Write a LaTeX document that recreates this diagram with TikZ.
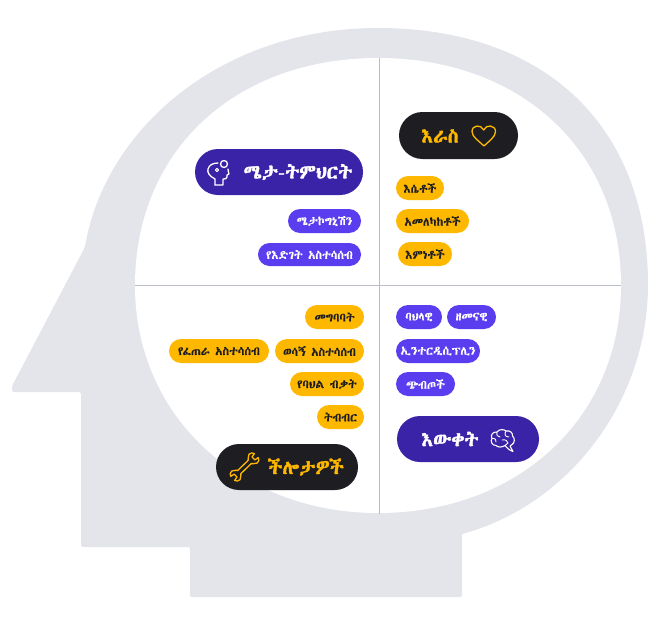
\documentclass[tikz,border=0pt]{standalone}
\usepackage{fontspec}
\usetikzlibrary{shapes.misc}
\newfontfamily\eth[FakeBold=0.25]{Abyssinica SIL}
\newfontfamily\ethb[FakeBold=2]{Abyssinica SIL}
\definecolor{headgray}{HTML}{E3E5EB}
\definecolor{axisgray}{HTML}{B9BDC5}
\definecolor{deep}{HTML}{3A23A6}
\definecolor{violet}{HTML}{5B3DF0}
\definecolor{amber}{HTML}{FFB800}
\definecolor{coal}{HTML}{1E1E22}
\tikzset{
  x=1pt,y=-1pt,
  pill/.style={rounded rectangle,inner sep=0pt,font=\eth\fontsize{12}{14}\selectfont},
  bigpill/.style={rounded rectangle,inner sep=0pt},
  bigtext/.style={inner sep=0pt,font=\ethb\fontsize{19.5}{22}\selectfont},
  violetpill/.style={pill,fill=violet,text=white},
  amberpill/.style={pill,fill=amber,text=coal},
  icon/.style={line width=1.3pt,line join=round,line cap=round},
}
% #1 name, #2 style, #3 left, #4 right, #5 top, #6 bottom, #7 text
\newcommand{\pillat}[7]{\node[#2,minimum width={#4-#3},minimum height={#6-#5}] (#1) at ({(#3+#4)/2},{(#5+#6)/2}) {#7};}
\begin{document}
\begin{tikzpicture}
\useasboundingbox (0,0) rectangle (669,629);
% head silhouette
\fill[headgray]
  (462,534) [rounded corners=2pt] -- (462,597) -- (190,597) -- (190,547) -- (81,547) -- (81,392) -- (12,392)
  -- (12,386) -- (85,247) [sharp corners]
  .. controls (105,130) and (220,28) .. (378,28)
  .. controls (545,28) and (648,126) .. (648,285)
  .. controls (648,400) and (570,505) .. (462,534) -- cycle;
% inner face
\fill[white] (378,58) .. controls (519,58) and (621,149) .. (621,285.5)
  .. controls (621,417) and (519,513) .. (378,513)
  .. controls (241,513) and (135,417) .. (135,285.5)
  .. controls (135,149) and (237,58) .. (378,58) -- cycle;
% axes
\coordinate (axt) at (379,58); \coordinate (axb) at (379,514);
\coordinate (axl) at (135,285.5); \coordinate (axr) at (621,285.5);
\draw[axisgray,line width=0.8pt] (axt) -- (axb);
\draw[axisgray,line width=0.8pt] (axl) -- (axr);
% big pills
\pillat{meta}{bigpill,fill=deep}{195}{363}{149}{195}{}
\node[bigtext,text=white] (metat) at (298,172) {ሜታ-ትምህርት};
\pillat{self}{bigpill,fill=coal}{399}{518}{112}{159}{}
\node[bigtext,text=amber] (selft) at (440,136) {እራስ};
\pillat{skill}{bigpill,fill=coal}{216}{358}{444}{490}{}
\node[bigtext,text=amber] (skillt) at (306,467) {ችሎታዎች};
\pillat{know}{bigpill,fill=deep}{397}{539}{416}{462}{}
\node[bigtext,text=white] (knowt) at (450,439) {እውቀት};
% small pills
\pillat{a1}{violetpill}{288}{361}{209}{233}{ሜታኮግኒሽን}
\pillat{a2}{violetpill}{258}{361}{243}{266}{የእድገት አስተሳሰብ}
\pillat{b1}{amberpill}{396}{444}{176}{200}{እሴቶች}
\pillat{b2}{amberpill}{396}{469}{209}{233}{አመለካከቶች}
\pillat{b3}{amberpill}{398}{452}{242}{266}{እምነቶች}
\pillat{c1}{amberpill}{305}{364}{305}{329}{መግባባት}
\pillat{c2}{amberpill}{169}{269}{339}{363}{የፈጠራ አስተሳሰብ}
\pillat{c3}{amberpill}{275}{364}{339}{363}{ወሳኝ አስተሳሰብ}
\pillat{c4}{amberpill}{290}{364}{372}{396}{የባህል ብቃት}
\pillat{c5}{amberpill}{317}{364}{405}{429}{ትብብር}
\pillat{d1}{violetpill}{396}{442}{305}{329}{ባህላዊ}
\pillat{d2}{violetpill}{447}{496}{305}{329}{ዘመናዊ}
\pillat{d3}{violetpill}{396}{480}{339}{363}{ኢንተርዲሲፕሊን}
\pillat{d4}{violetpill}{396}{455}{372}{396}{ጭብጦች}
% heart icon
\draw[icon,amber] (484,146) .. controls (479,141) and (472,137) .. (472,131.5)
  .. controls (472,125) and (481,124) .. (483.7,130)
  .. controls (486,124) and (495.5,125) .. (495.5,131.5)
  .. controls (495.5,137) and (489,141) .. (484,146) -- cycle;
% head icon
\draw[icon,white] (215,185) -- (215,179) .. controls (209,176) and (207,172) .. (208,169)
  .. controls (209,165) and (213,163) .. (218,163);
\draw[icon,white] (228,169) .. controls (228,171) and (229,174) .. (229,174)
  -- (227,175) -- (227,177) .. controls (227,179) and (225,179) .. (223,179)
  -- (223,185) -- (215,185);
\draw[icon,white] (224,164) circle[radius=3.5];
\draw[icon,white,line width=1pt] (217,170) circle[radius=1.6];
% wrench icon
\begin{scope}[shift={(244.5,467)},rotate=44,scale=0.8]
\draw[icon,amber] (-9,2.8) -- (9,2.8) .. controls (11,3) and (11,7) .. (15,7.5)
  .. controls (18,7.5) and (20,6) .. (20.5,3.5) -- (15.5,2.5) -- (15.5,-2.5) -- (20.5,-3.5)
  .. controls (20,-6) and (18,-7.5) .. (15,-7.5) .. controls (11,-7) and (11,-3) .. (9,-2.8)
  -- (-9,-2.8) .. controls (-11,-3) and (-11,-7) .. (-15,-7.5)
  .. controls (-18,-7.5) and (-20,-6) .. (-20.5,-3.5) -- (-15.5,-2.5) -- (-15.5,2.5) -- (-20.5,3.5)
  .. controls (-20,6) and (-18,7.5) .. (-15,7.5) .. controls (-11,7) and (-11,3) .. (-9,2.8) -- cycle;
\end{scope}
% brain icon
\draw[icon,white,line width=1.1pt] (510,446) -- (513,451.5) .. controls (509,450) and (507,448) .. (505,445.5)
  .. controls (502,447.5) and (498,447.5) .. (496,445.5)
  .. controls (492,445.5) and (490,441) .. (492,438.5)
  .. controls (490,435) and (493,431.5) .. (497,432)
  .. controls (499,429) and (504,429) .. (506,431)
  .. controls (510,430) and (513,433) .. (512.5,436)
  .. controls (515,438) and (515,443) .. (512,444.5) -- (510,446);
\draw[icon,white,line width=0.9pt] (497,432) .. controls (496,435) and (498,437) .. (500,437);
\draw[icon,white,line width=0.9pt] (492,438.5) .. controls (495,438) and (497,440) .. (496,442);
\draw[icon,white,line width=0.9pt] (506,431) .. controls (504,434) and (505,437) .. (509,437);
\draw[icon,white,line width=0.9pt] (502,440) .. controls (505,439) and (508,441) .. (508,443) -- (505,445.5);
\end{tikzpicture}
\end{document}
